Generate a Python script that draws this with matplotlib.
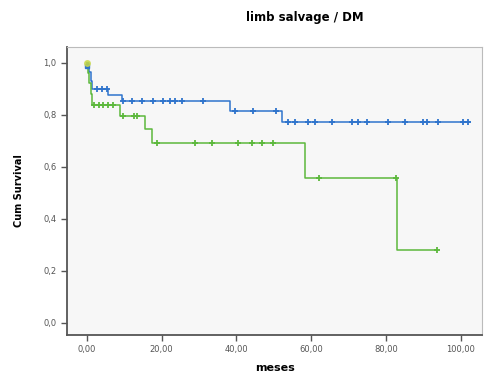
import numpy as np
import matplotlib
matplotlib.use('Agg')
import matplotlib.pyplot as plt

# Kaplan-Meier steps (months, cumulative survival)
blue_t = [0.0, 0.5, 1.0, 1.5, 5.7, 9.4, 38.3, 52.1, 102.5]
blue_s = [1.0, 0.965, 0.93, 0.90, 0.875, 0.854, 0.814, 0.773, 0.773]
blue_cens_t = [2.7, 4.0, 5.3, 9.8, 12.0, 14.7, 17.8, 20.5, 22.3, 23.6, 25.4, 31.2,
               39.5, 44.5, 50.5, 53.9, 55.7, 59.2, 61.1, 65.5, 70.9, 72.6, 74.9,
               80.6, 85.1, 90.0, 90.9, 94.0, 100.7, 102.0]

green_t = [0.0, 0.2, 0.5, 1.0, 1.3, 8.9, 15.6, 17.4, 58.4, 82.9, 93.6]
green_s = [1.0, 0.96, 0.92, 0.88, 0.837, 0.796, 0.744, 0.69, 0.555, 0.28, 0.28]
green_cens_t = [1.8, 3.2, 4.4, 5.7, 7.1, 9.8, 12.5, 13.4, 18.7, 29.0, 33.4, 40.5,
                44.1, 46.8, 49.9, 62.2, 82.6, 93.6]

xticks = [0, 20, 40, 60, 80, 100]
yticks = [0.0, 0.2, 0.4, 0.6, 0.8, 1.0]

blue = '#2f74cc'
green = '#5cb83c'


def level(t, s, x):
    # survival at time x for a step curve
    i = np.searchsorted(t, x, side='right') - 1
    return s[max(i, 0)]


fig = plt.figure(figsize=(4.95, 3.78), dpi=100)
ax = fig.add_axes([0.1354, 0.1138, 0.8383, 0.7619])
ax.set_facecolor('#f7f7f7')

ax.step(blue_t, blue_s, where='post', color=blue, lw=1.1)
ax.plot(blue_cens_t, [level(blue_t, blue_s, x) for x in blue_cens_t], '+',
        color=blue, ms=4.5, mew=1.3)
ax.step(green_t, green_s, where='post', color=green, lw=1.1)
ax.plot(green_cens_t, [level(green_t, green_s, x) for x in green_cens_t], '+',
        color=green, ms=4.5, mew=1.3)
ax.plot([0.0], [0.985], 's', color=blue, ms=3.5)
ax.plot([0.0], [1.0], 'o', color='#c8d84a', ms=4, alpha=0.8)

ax.set_xlim(-5.3, 105.7)
ax.set_ylim(-0.047, 1.06)
ax.set_xticks(xticks)
ax.set_xticklabels([('%.2f' % v).replace('.', ',') for v in xticks])
ax.set_yticks(yticks)
ax.set_yticklabels([('%.1f' % v).replace('.', ',') for v in yticks])
ax.tick_params(labelsize=6, colors='#555555', length=4, width=1)

for sp in ['left', 'bottom']:
    ax.spines[sp].set_color('#555555')
    ax.spines[sp].set_linewidth(1.3)
for sp in ['top', 'right']:
    ax.spines[sp].set_color('#bbbbbb')
    ax.spines[sp].set_linewidth(0.8)

ax.set_xlabel('meses', fontsize=8, fontweight='bold', labelpad=6)
ax.set_ylabel('Cum Survival', fontsize=7, fontweight='bold', labelpad=14)
fig.text(0.616, 0.955, 'limb salvage / DM', ha='center', va='center',
         fontsize=8.5, fontweight='bold')

fig.savefig('out.png', dpi=100)
